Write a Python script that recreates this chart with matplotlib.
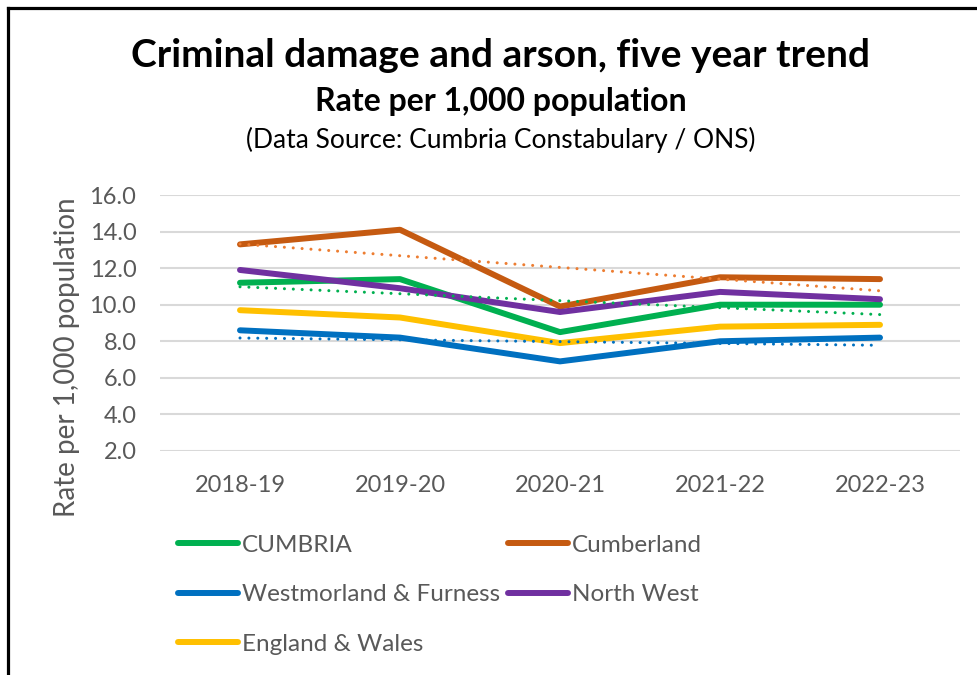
import numpy as np
import matplotlib.pyplot as plt
from matplotlib.lines import Line2D

plt.rcParams['font.family'] = ['Lato', 'DejaVu Sans']

# 데이터
years = ['2018-19', '2019-20', '2020-21', '2021-22', '2022-23']
cumbria = [11.2, 11.4, 8.5, 10.0, 10.0]
cumberland = [13.3, 14.1, 9.9, 11.5, 11.4]
westmorland = [8.6, 8.2, 6.9, 8.0, 8.2]
north_west = [11.9, 10.9, 9.6, 10.7, 10.3]
england_wales = [9.7, 9.3, 7.9, 8.8, 8.9]

y_ticks = [2.0, 4.0, 6.0, 8.0, 10.0, 12.0, 14.0, 16.0]

x = np.arange(len(years))
grey_text = '#595959'

fig = plt.figure(figsize=(9.78, 6.75), dpi=100)
ax = fig.add_axes([0.1636, 0.3319, 0.8180, 0.3792])

# 실선 시리즈
h_cum, = ax.plot(x, cumbria, color='#00B050', lw=4.3, solid_capstyle='round', label='CUMBRIA')
h_cbl, = ax.plot(x, cumberland, color='#C55A11', lw=4.3, solid_capstyle='round', label='Cumberland')
h_wf, = ax.plot(x, westmorland, color='#0070C0', lw=4.3, solid_capstyle='round', label='Westmorland & Furness')
h_nw, = ax.plot(x, north_west, color='#7030A0', lw=4.3, solid_capstyle='round', label='North West')
h_ew, = ax.plot(x, england_wales, color='#FFC000', lw=4.3, solid_capstyle='round', label='England & Wales')

# 선형 추세선 (점선)
for vals, col in [(cumberland, '#ED7D31'), (cumbria, '#00B050'), (westmorland, '#0070C0')]:
    coef = np.polyfit(x, vals, 1)
    ax.plot(x, np.polyval(coef, x), color=col, lw=2.2, ls=(0, (0.01, 2.9)),
            dash_capstyle='round', label='_nolegend_')

ax.set_xlim(-0.5, len(years) - 0.5)
ax.set_ylim(2, 16)
ax.set_yticks(y_ticks)
ax.set_yticklabels([f'{v:.1f}' for v in y_ticks])
ax.set_xticks(x)
ax.set_xticklabels(years)
ax.tick_params(axis='both', length=0, labelsize=17, colors=grey_text)
ax.tick_params(axis='y', pad=17)
ax.tick_params(axis='x', pad=17)
ax.grid(axis='y', color='#D9D9D9', lw=1.5)
ax.set_axisbelow(True)
for s in ax.spines.values():
    s.set_visible(False)

ax.set_ylabel('Rate per 1,000 population', fontsize=20, color=grey_text)
ax.yaxis.set_label_coords(-0.100, 0.367)

# 제목
fig.text(0.512, 0.918, 'Criminal damage and arson, five year trend', ha='center', va='center',
         fontsize=28, fontweight='bold', color='black')
fig.text(0.512, 0.849, 'Rate per 1,000 population', ha='center', va='center',
         fontsize=23, fontweight='bold', color='black')
fig.text(0.512, 0.792, '(Data Source: Cumbria Constabulary / ONS)', ha='center', va='center',
         fontsize=19, color='black')

# 범례: 행 순서대로 보이도록 재배열
handles = [h_cum, h_wf, h_ew, h_cbl, h_nw]
fig.legend(handles=handles, labels=[h.get_label() for h in handles], ncol=2,
           loc='upper left', bbox_to_anchor=(0.182, 0.208), frameon=False,
           fontsize=17.5, labelcolor=grey_text, handlelength=2.47, handletextpad=0.16,
           columnspacing=0.33, labelspacing=1.17, borderaxespad=0, borderpad=0)

# 바깥 테두리 (위, 왼쪽)
fig.add_artist(Line2D([0.0082, 1.0], [0.988, 0.988], color='black', lw=2.3, transform=fig.transFigure))
fig.add_artist(Line2D([0.0082, 0.0082], [0.0, 0.988], color='black', lw=2.3, transform=fig.transFigure))

fig.savefig('out.png', dpi=100)
